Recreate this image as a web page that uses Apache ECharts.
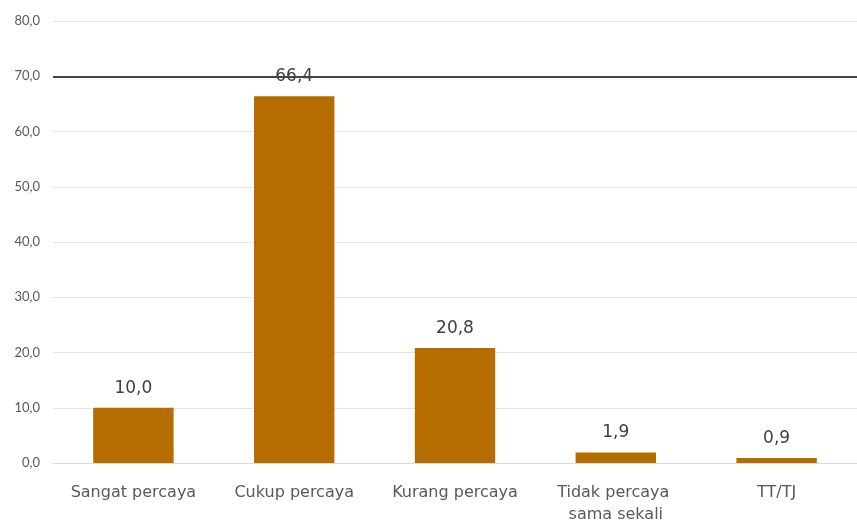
<!DOCTYPE html>
<html><head><meta charset="utf-8">
<script src="https://cdn.jsdelivr.net/npm/echarts@6/dist/echarts.min.js"></script>
<style>html,body{margin:0;padding:0;background:#fff}#c{width:857px;height:526px}</style>
</head><body><div id="c"></div>
<script>
const categories = ["Sangat percaya", "Cukup percaya", "Kurang percaya", "Tidak percaya sama sekali", "TT/TJ"];
const values = [10.0, 66.4, 20.8, 1.9, 0.9];
const referenceLine = 70;
const fmt = v => Number(v).toFixed(1).replace('.', ',');
const font = "Lato, 'Noto Sans', sans-serif";
const wide = "'DejaVu Sans', sans-serif";
const chart = echarts.init(document.getElementById('c'));
chart.setOption({
  animation: false,
  grid: {left: 53, right: 0, top: 21, bottom: 61, containLabel: false},
  xAxis: {
    type: 'category', data: categories,
    axisLine: {show: true, lineStyle: {color: '#d9d9d9', width: 1}},
    axisTick: {show: false},
    axisLabel: {color: '#595959', fontSize: 16, fontFamily: wide, margin: 19, width: 145, overflow: 'break', lineHeight: 22, interval: 0}
  },
  yAxis: {
    type: 'value', min: 0, max: 80, interval: 10,
    axisLine: {show: false}, axisTick: {show: false},
    axisLabel: {color: '#595959', fontSize: 13, fontFamily: font, margin: 13, formatter: fmt},
    splitLine: {lineStyle: {color: '#e3e3e3', width: 1}}
  },
  series: [{
    type: 'bar', data: values, barWidth: '50%',
    itemStyle: {color: '#B56D00'},
    label: {show: true, position: 'top', distance: 11, color: '#404040', fontSize: 17, fontFamily: wide, formatter: p => fmt(p.value)},
    markLine: {
      silent: true, symbol: 'none', label: {show: false},
      lineStyle: {color: '#444', width: 2, type: 'solid'},
      data: [{yAxis: referenceLine}]
    }
  }]
});
</script></body></html>
